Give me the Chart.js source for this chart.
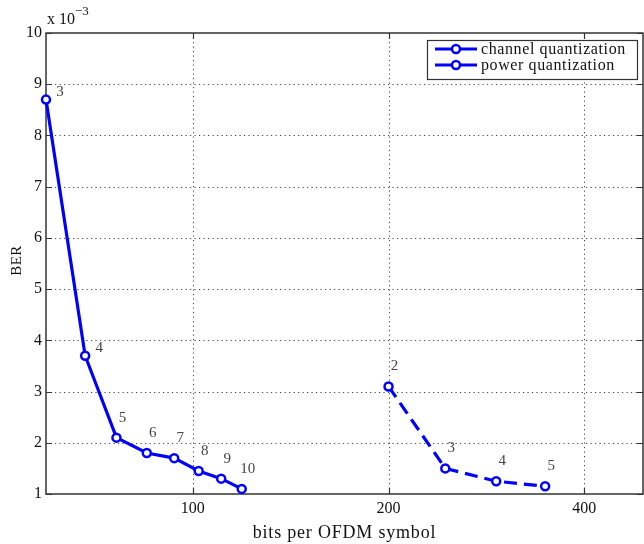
<!DOCTYPE html>
<html>
<head>
<meta charset="utf-8">
<script src="https://cdn.jsdelivr.net/npm/chart.js"></script>
<style>
html, body { margin: 0; padding: 0; background: #fff; }
</style>
</head>
<body>
<canvas id="my-chart" width="644" height="544"></canvas>
<script>
// BER values are in units of 1e-3 (the axis shows "x 10^-3")
const channelBits = [25, 45, 61, 76.5, 90.5, 103, 114.5, 125];
const channelBer = [8.7, 3.7, 2.1, 1.8, 1.7, 1.45, 1.3, 1.1];
const channelLevels = ['3', '4', '5', '6', '7', '8', '9', '10'];

const powerBits = [200, 229, 255, 280];
const powerBer = [3.1, 1.5, 1.25, 1.15];
const powerLevels = ['2', '3', '4', '5'];

const xTicks = [100, 200, 300];
const xTickLabels = ['100', '200', '400'];

const xTitle = 'bits per OFDM symbol';
const yTitle = 'BER';

const serif = '"Liberation Serif", "DejaVu Serif", serif';
const ctx = document.getElementById('my-chart');

function toPoints(xs, ys) {
    return xs.map(function (x, i) { return { x: x, y: ys[i] }; });
}

// matlab-like axes: dotted grid, box, inward tick marks
const axesBox = {
    id: 'axesBox',
    beforeDatasetsDraw: function (chart) {
        const c = chart.ctx, a = chart.chartArea;
        const xs = chart.scales.x, ys = chart.scales.y;
        c.save();
        c.strokeStyle = '#444';
        c.lineWidth = 1;
        c.setLineDash([1.2, 3.3]);
        ys.ticks.forEach(function (t) {
            if (t.value <= ys.min || t.value >= ys.max) return;
            const py = Math.round(ys.getPixelForValue(t.value)) + 0.5;
            c.beginPath(); c.moveTo(a.left, py); c.lineTo(a.right, py); c.stroke();
        });
        xs.ticks.forEach(function (t) {
            const px = Math.round(xs.getPixelForValue(t.value)) + 0.5;
            c.beginPath(); c.moveTo(px, a.top); c.lineTo(px, a.bottom); c.stroke();
        });
        c.setLineDash([]);
        c.strokeStyle = '#333';
        c.lineWidth = 1.5;
        c.strokeRect(a.left, a.top, a.right - a.left, a.bottom - a.top);
        c.lineWidth = 1.2;
        xs.ticks.forEach(function (t) {
            const px = Math.round(xs.getPixelForValue(t.value)) + 0.5;
            c.beginPath();
            c.moveTo(px, a.bottom); c.lineTo(px, a.bottom - 6);
            c.moveTo(px, a.top); c.lineTo(px, a.top + 6);
            c.stroke();
        });
        ys.ticks.forEach(function (t) {
            const py = Math.round(ys.getPixelForValue(t.value)) + 0.5;
            c.beginPath();
            c.moveTo(a.left, py); c.lineTo(a.left + 6, py);
            c.moveTo(a.right, py); c.lineTo(a.right - 6, py);
            c.stroke();
        });
        c.restore();
    },
    afterDraw: function (chart) {
        const c = chart.ctx, a = chart.chartArea;
        c.save();
        // level labels next to the points
        c.font = '15px ' + serif;
        c.fillStyle = '#444';
        c.textAlign = 'center';
        c.textBaseline = 'middle';
        chart.data.datasets.forEach(function (ds, i) {
            const meta = chart.getDatasetMeta(i);
            meta.data.forEach(function (pt, j) {
                let dx = 6, dy = -20;
                if (i === 0 && j < 2) { dx = 14; dy = -8; }
                c.fillText(ds.levels[j], pt.x + dx, pt.y + dy);
            });
        });

        // axis titles
        c.fillStyle = '#111';
        c.textBaseline = 'alphabetic';
        c.letterSpacing = '0.8px';
        c.font = '18px ' + serif;
        c.fillText(xTitle, (a.left + a.right) / 2, 538);
        c.letterSpacing = '0.5px';
        c.save();
        c.translate(21, (a.top + a.bottom) / 2 - 3);
        c.rotate(-Math.PI / 2);
        c.font = '15px ' + serif;
        c.fillText(yTitle, 0, 0);
        c.restore();

        // exponent
        c.letterSpacing = '0px';
        c.textAlign = 'left';
        c.font = '16px ' + serif;
        c.fillText('x 10', a.left + 1, 24);
        c.font = '13px ' + serif;
        c.fillText('\u22123', a.left + 29, 15);

        // legend
        const lx = a.right - 216, ly = a.top + 7;
        c.fillStyle = '#fff';
        c.fillRect(lx, ly, 210, 39);
        c.strokeStyle = '#333';
        c.lineWidth = 1.2;
        c.strokeRect(lx + 0.5, ly + 0.5, 210, 39);
        chart.data.datasets.forEach(function (ds, i) {
            const yy = ly + 9 + i * 16;
            c.strokeStyle = ds.borderColor;
            c.lineWidth = 3;
            c.beginPath(); c.moveTo(lx + 8, yy); c.lineTo(lx + 50, yy); c.stroke();
            c.lineWidth = 2.5;
            c.fillStyle = '#fff';
            c.beginPath(); c.arc(lx + 29, yy, 4, 0, Math.PI * 2); c.fill(); c.stroke();
            c.fillStyle = '#111';
            c.font = '16px ' + serif;
            c.letterSpacing = '0.6px';
            c.textBaseline = 'middle';
            c.fillText(ds.label, lx + 54, yy + 1);
        });
        c.restore();
    }
};

const chart = new Chart(ctx, {
    type: 'line',
    data: {
        datasets: [{
            label: 'channel quantization',
            data: toPoints(channelBits, channelBer),
            levels: channelLevels,
            borderColor: '#0000ff',
            borderWidth: 3.2,
            pointRadius: 4,
            pointBorderWidth: 2.5,
            pointBackgroundColor: '#fff',
            pointBorderColor: '#0000ff'
        }, {
            label: 'power quantization',
            data: toPoints(powerBits, powerBer),
            levels: powerLevels,
            borderColor: '#0000ff',
            borderWidth: 3.2,
            borderDash: [13, 7],
            pointRadius: 4,
            pointBorderWidth: 2.5,
            pointBackgroundColor: '#fff',
            pointBorderColor: '#0000ff'
        }]
    },
    options: {
        responsive: false,
        animation: false,
        clip: false,
        layout: { autoPadding: false, padding: { top: 33, right: 1, left: 0, bottom: 0 } },
        plugins: {
            legend: { display: false },
            tooltip: { enabled: false }
        },
        scales: {
            x: {
                type: 'linear',
                min: 25,
                max: 330,
                afterBuildTicks: function (s) {
                    s.ticks = xTicks.map(function (v) { return { value: v }; });
                },
                afterFit: function (s) { s.height = 50; },
                grid: { display: false, drawTicks: false },
                border: { display: false },
                ticks: {
                    padding: 5,
                    color: '#111',
                    font: { family: serif, size: 16 },
                    callback: function (v) { return xTickLabels[xTicks.indexOf(v)]; }
                }
            },
            y: {
                min: 1,
                max: 10,
                afterFit: function (s) { s.width = 46; },
                grid: { display: false, drawTicks: false },
                border: { display: false },
                ticks: {
                    stepSize: 1,
                    padding: 4,
                    color: '#111',
                    font: { family: serif, size: 16 }
                }
            }
        }
    },
    plugins: [axesBox]
});
</script>
</body>
</html>
